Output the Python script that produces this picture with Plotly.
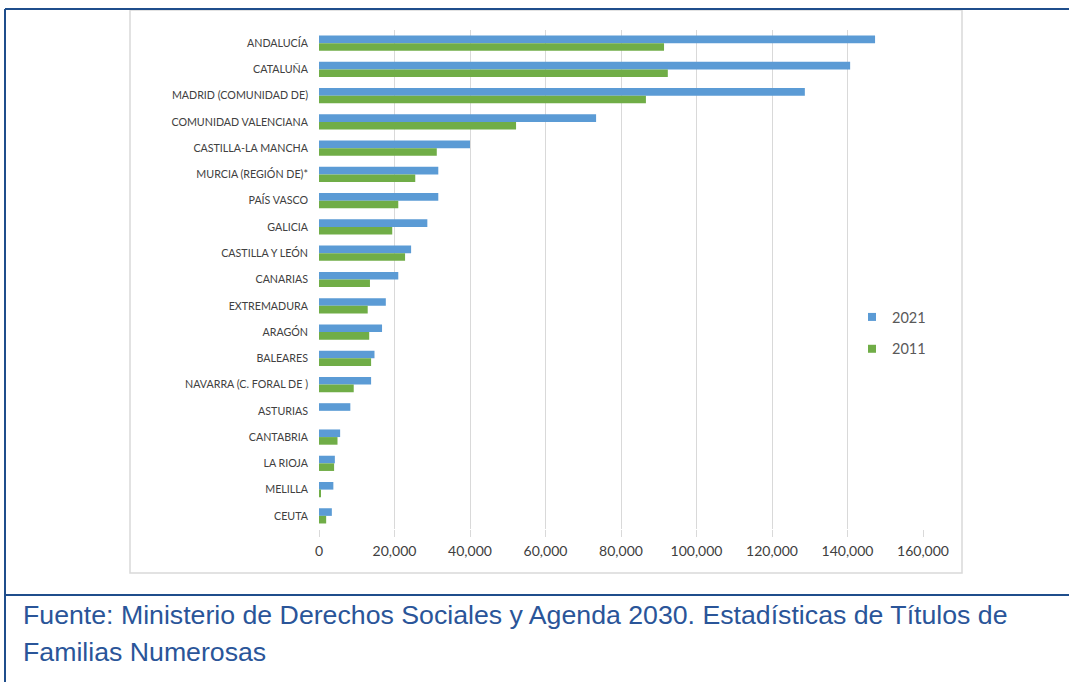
import plotly.graph_objects as go

categories = ["ANDALUCÍA", "CATALUÑA", "MADRID (COMUNIDAD DE)", "COMUNIDAD VALENCIANA",
              "CASTILLA-LA MANCHA", "MURCIA (REGIÓN DE)*", "PAÍS VASCO", "GALICIA",
              "CASTILLA Y LEÓN", "CANARIAS", "EXTREMADURA", "ARAGÓN", "BALEARES",
              "NAVARRA (C. FORAL DE )", "ASTURIAS", "CANTABRIA", "LA RIOJA", "MELILLA", "CEUTA"]
values_2021 = [147300, 140700, 128700, 73400, 40000, 31600, 31600, 28700, 24400, 21000,
               17700, 16700, 14700, 13800, 8300, 5600, 4200, 3800, 3400]
values_2011 = [91400, 92400, 86600, 52200, 31200, 25500, 21000, 19400, 22800, 13500,
               12900, 13300, 13800, 9200, 0, 4900, 4000, 450, 1900]
series_names = ["2021", "2011"]
series_colors = ["#5B9BD5", "#70AD47"]
tick_values = [0, 20000, 40000, 60000, 80000, 100000, 120000, 140000, 160000]
tick_labels = ["0", "20,000", "40,000", "60,000", "80,000", "100,000", "120,000", "140,000", "160,000"]
footer_lines = ["Fuente: Ministerio de Derechos Sociales y Agenda 2030. Estadísticas de Títulos de",
                "Familias Numerosas"]

W, H = 1069, 682
def px(x):
    return x / W
def py(y):
    return 1 - y / H

fig = go.Figure()
for name, vals, col in zip(series_names, [values_2021, values_2011], series_colors):
    fig.add_trace(go.Bar(y=categories, x=vals, orientation="h", name=name,
                         marker=dict(color=col, line=dict(width=0)),
                         showlegend=False, legendgroup=name))
# legend entries (small square markers like the original)
for name, col in zip(series_names, series_colors):
    fig.add_trace(go.Scatter(x=[None], y=[None], mode="markers", name=name,
                             marker=dict(symbol="square", size=8, color=col),
                             legendgroup=name, showlegend=True, hoverinfo="skip"))

fig.update_layout(
    width=W, height=H, autosize=False,
    margin=dict(l=0, r=0, t=0, b=0, pad=0, autoexpand=False),
    paper_bgcolor="white", plot_bgcolor="white",
    barmode="group", bargap=0.42, bargroupgap=0,
    font=dict(family="Lato, Open Sans, sans-serif", color="#404040"),
    xaxis=dict(domain=[px(319), px(923)], range=[0, 160000], tickvals=tick_values,
               ticktext=tick_labels, showgrid=True, gridcolor="#D9D9D9", gridwidth=1,
               zeroline=False, showline=False, ticks="outside", ticklen=7,
               tickcolor="#D9D9D9", tickfont=dict(size=14, color="#404040"),
               ticklabelstandoff=2, fixedrange=True, automargin=False),
    yaxis=dict(domain=[py(529), py(30)], autorange="reversed", showgrid=False,
               zeroline=False, showline=False, ticks="", ticklabelstandoff=10,
               tickfont=dict(size=10.7, color="#404040"), fixedrange=True, automargin=False),
    legend=dict(x=px(852), y=py(301), xanchor="left", yanchor="top",
                font=dict(size=14.5, color="#595959"), itemwidth=30,
                tracegroupgap=10, bgcolor="rgba(0,0,0,0)", traceorder="grouped"),
    showlegend=True,
)

shapes = []
# chart box
shapes.append(dict(type="rect", xref="paper", yref="paper", x0=px(130), x1=px(962),
                   y0=py(573), y1=py(10), line=dict(color="#D9D9D9", width=1.5)))
# outer frame lines
frame_color = "#1F4E8C"
shapes.append(dict(type="line", xref="paper", yref="paper", x0=px(5), x1=1,
                   y0=py(9), y1=py(9), line=dict(color=frame_color, width=2)))
shapes.append(dict(type="line", xref="paper", yref="paper", x0=px(5), x1=px(5),
                   y0=py(9), y1=0, line=dict(color=frame_color, width=2)))
shapes.append(dict(type="line", xref="paper", yref="paper", x0=px(5), x1=1,
                   y0=py(595), y1=py(595), line=dict(color=frame_color, width=2)))
fig.update_layout(shapes=shapes)

for i, line in enumerate(footer_lines):
    fig.add_annotation(text=line, xref="paper", yref="paper", x=px(21), y=py(615 + 37 * i),
                       xanchor="left", yanchor="middle", showarrow=False,
                       font=dict(family="Liberation Sans, Arial", size=26.7, color="#2A5599"))

post = ("document.body.style.margin='0';document.body.style.padding='0';"
        "document.documentElement.style.overflow='hidden';document.body.style.overflow='hidden';"
        "var gd=document.getElementById('{plot_id}');Plotly.relayout(gd,{width:1069,height:682});")
fig.write_html("out.html", post_script=post,
               config={"responsive": False, "displayModeBar": False})
